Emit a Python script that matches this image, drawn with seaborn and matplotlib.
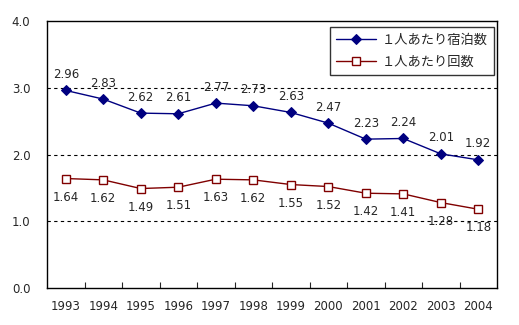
import matplotlib
matplotlib.use("Agg")
import matplotlib.pyplot as plt
import seaborn as sns
import pandas as pd
import numpy as np

years = ["1993", "1994", "1995", "1996", "1997", "1998", "1999", "2000", "2001", "2002", "2003", "2004"]
stays = [2.96, 2.83, 2.62, 2.61, 2.77, 2.73, 2.63, 2.47, 2.23, 2.24, 2.01, 1.92]
trips = [1.64, 1.62, 1.49, 1.51, 1.63, 1.62, 1.55, 1.52, 1.42, 1.41, 1.28, 1.18]
name_stays = "１人あたり宿泊数"
name_trips = "１人あたり回数"

sns.set_style("white")
plt.rcParams["font.family"] = ["DejaVu Sans", "Noto Sans CJK JP"]

pos = np.arange(len(years))
df = pd.DataFrame({"pos": pos, name_stays: stays, name_trips: trips})

fig = plt.figure(figsize=(5.19, 3.25), dpi=100)
ax = fig.add_axes([47/519, 37/325, 450/519, 267/325])

sns.lineplot(data=df, x="pos", y=name_stays, ax=ax, color="#000080", marker="D",
             markersize=5.5, markeredgecolor="#000080", linewidth=1, label=name_stays)
sns.lineplot(data=df, x="pos", y=name_trips, ax=ax, color="#800000", marker="s",
             markersize=6, markerfacecolor="white", markeredgecolor="#800000",
             markeredgewidth=1, linewidth=1, label=name_trips)

fs = 8.5
for x, v in zip(pos, stays):
    ax.annotate(f"{v:.2f}", (x, v), xytext=(0, 11.5), textcoords="offset points",
                ha="center", va="center", fontsize=fs)
for x, v in zip(pos, trips):
    ax.annotate(f"{v:.2f}", (x, v), xytext=(0, -13.5), textcoords="offset points",
                ha="center", va="center", fontsize=fs)

ax.set_xlim(-0.5, len(years) - 0.5)
ax.set_ylim(0, 4)
ax.set_yticks([0, 1, 2, 3, 4])
ax.set_yticklabels([f"{t:.1f}" for t in [0, 1, 2, 3, 4]], fontsize=fs)
ax.set_xticks(pos)
ax.set_xticklabels(years, fontsize=fs)
ax.set_xticks(pos[:-1] + 0.5, minor=True)
ax.tick_params(axis="x", which="major", length=0, pad=9)
ax.tick_params(axis="x", which="minor", direction="in", length=4, width=0.8, bottom=True)
ax.tick_params(axis="y", length=0, pad=12)
ax.set_xlabel("")
ax.set_ylabel("")
for y in [1, 2, 3]:
    ax.axhline(y, color="black", linestyle=(0, (3, 3)), linewidth=0.8, zorder=0)
for s in ax.spines.values():
    s.set_color("black")
    s.set_linewidth(1)

leg = ax.legend(loc="upper right", bbox_to_anchor=(0.993, 0.978), frameon=True,
                fancybox=False, fontsize=9.5, handlelength=3, borderpad=0.5,
                labelspacing=0.7, borderaxespad=0, handletextpad=0.4)
leg.get_frame().set_edgecolor("black")
leg.get_frame().set_linewidth(1)

fig.savefig("out.png", dpi=100)
